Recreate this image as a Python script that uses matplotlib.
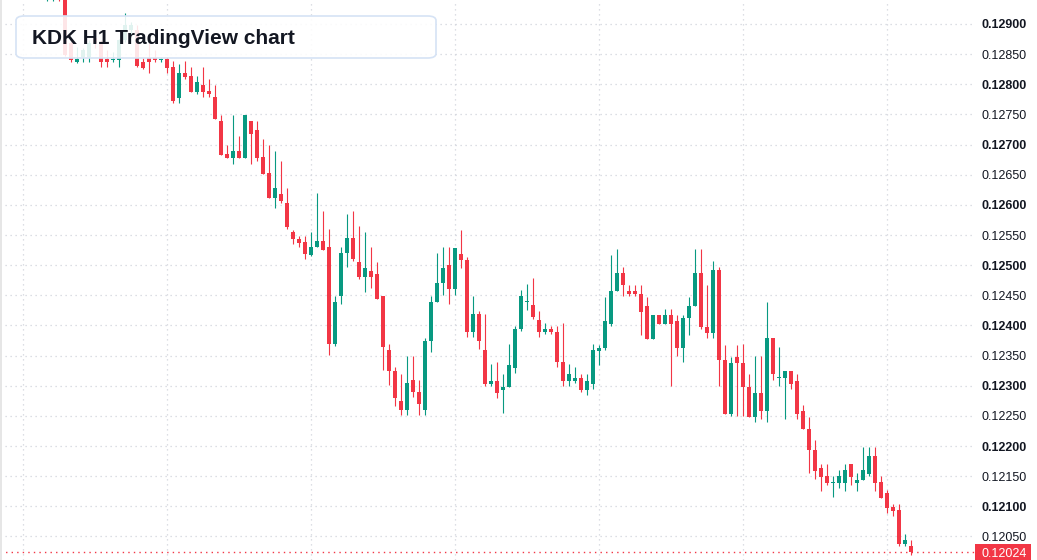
import numpy as np
import matplotlib.pyplot as plt
from matplotlib import transforms
from matplotlib.patches import FancyBboxPatch, Rectangle

# OHLC data, H1 candles, oldest first
opens = [0.12948, 0.12945, 0.12965, 0.12945, 0.128685, 0.128365, 0.128453, 0.128453, 0.128768, 0.128702,
         0.12842, 0.12841, 0.128404, 0.128735, 0.1289, 0.1289, 0.128375, 0.128437, 0.128437, 0.12841,
         0.12842, 0.128288, 0.127779, 0.128188, 0.128139, 0.127878, 0.127989, 0.12789, 0.127791, 0.127393,
         0.126846, 0.126785, 0.126896, 0.126785, 0.127393, 0.127244, 0.126797, 0.126532, 0.126122, 0.126184,
         0.126035, 0.125543, 0.125438, 0.125388, 0.125173, 0.125294, 0.125405, 0.125306, 0.123687, 0.124482,
         0.125195, 0.125455, 0.125057, 0.124797, 0.124908, 0.124858, 0.124494, 0.123599, 0.123251, 0.122754,
         0.122594, 0.123102, 0.122903, 0.122594, 0.123737, 0.124383, 0.124698, 0.125007, 0.124598, 0.12519,
         0.12509, 0.123886, 0.124196, 0.123599, 0.123024, 0.123086, 0.122925, 0.122974, 0.123289, 0.123935,
         0.124386, 0.124345, 0.124096, 0.123886, 0.123947, 0.123897, 0.1234, 0.123074, 0.123074, 0.123135,
         0.122925, 0.123024, 0.123571, 0.123621, 0.124018, 0.124565, 0.124875, 0.124577, 0.124577, 0.124527,
         0.124328, 0.12377, 0.124179, 0.124018, 0.124179, 0.124079, 0.123621, 0.124118, 0.124317, 0.124875,
         0.12398, 0.123869, 0.124925, 0.123433, 0.122527, 0.123483, 0.123384, 0.122986, 0.122478, 0.122887,
         0.122577, 0.123798, 0.123127, 0.123124, 0.123251, 0.123086, 0.122589, 0.12229, 0.121942, 0.121644,
         0.121495, 0.121384, 0.121384, 0.121384, 0.121694, 0.121384, 0.121434, 0.121533, 0.121843, 0.121396,
         0.121213, 0.120982, 0.120932, 0.120374, 0.120335]
highs = [0.12981, 0.12975, 0.1297, 0.12947, 0.128718, 0.128619, 0.128602, 0.128735, 0.128818, 0.128735,
         0.12857, 0.128536, 0.12875, 0.129182, 0.12903, 0.12898, 0.128437, 0.128685, 0.12857, 0.128437,
         0.128453, 0.128392, 0.128337, 0.128382, 0.128288, 0.128139, 0.128288, 0.128089, 0.127989, 0.127492,
         0.126995, 0.127492, 0.127144, 0.127492, 0.127393, 0.127393, 0.127095, 0.126995, 0.126896, 0.126735,
         0.126283, 0.125587, 0.125488, 0.125488, 0.125554, 0.1262, 0.125902, 0.125604, 0.124494, 0.125306,
         0.125852, 0.125902, 0.125653, 0.125554, 0.125306, 0.125057, 0.124494, 0.123699, 0.123306, 0.123202,
         0.1235, 0.1235, 0.123102, 0.123798, 0.124494, 0.125206, 0.125306, 0.125306, 0.125289, 0.125587,
         0.12514, 0.124494, 0.124245, 0.124196, 0.123355, 0.1234, 0.123202, 0.123699, 0.123997, 0.124593,
         0.124693, 0.124792, 0.124245, 0.124046, 0.123997, 0.123997, 0.124046, 0.123355, 0.123305, 0.123202,
         0.123202, 0.123699, 0.123682, 0.124477, 0.125173, 0.125272, 0.124974, 0.124676, 0.124676, 0.124676,
         0.124477, 0.124179, 0.124179, 0.124278, 0.124278, 0.124179, 0.124179, 0.124477, 0.125272, 0.125272,
         0.124676, 0.125074, 0.124974, 0.123682, 0.123483, 0.123682, 0.123699, 0.123202, 0.1235, 0.1235,
         0.124394, 0.123798, 0.123649, 0.123251, 0.123251, 0.123202, 0.122688, 0.122489, 0.122092, 0.121694,
         0.121694, 0.121495, 0.121595, 0.121694, 0.121694, 0.121545, 0.121992, 0.121992, 0.121992, 0.121495,
         0.121279, 0.121031, 0.121031, 0.120534, 0.120435]
lows = [0.12938, 0.12938, 0.12938, 0.12847, 0.128375, 0.12836, 0.128375, 0.128375, 0.128602, 0.128288,
        0.128288, 0.128375, 0.128293, 0.128702, 0.12882, 0.128288, 0.128254, 0.128183, 0.12837, 0.12837,
        0.128193, 0.127696, 0.127696, 0.128094, 0.127868, 0.12784, 0.127796, 0.127796, 0.127421, 0.126825,
        0.126785, 0.126686, 0.126785, 0.126785, 0.126686, 0.126735, 0.12652, 0.126122, 0.12594, 0.126039,
        0.125592, 0.125344, 0.125306, 0.125095, 0.125145, 0.125294, 0.125244, 0.123505, 0.123654, 0.12435,
        0.124963, 0.125062, 0.124764, 0.124548, 0.124615, 0.124432, 0.123256, 0.123008, 0.12266, 0.122511,
        0.122511, 0.122809, 0.122511, 0.122511, 0.123555, 0.124383, 0.124499, 0.12435, 0.124499, 0.124946,
        0.123803, 0.123803, 0.123604, 0.122991, 0.122991, 0.122792, 0.122544, 0.122974, 0.123207, 0.123902,
        0.12425, 0.124101, 0.123803, 0.123853, 0.123853, 0.123306, 0.122991, 0.122991, 0.123041, 0.122892,
        0.122842, 0.122942, 0.123339, 0.123588, 0.123985, 0.124565, 0.124482, 0.124482, 0.124482, 0.123836,
        0.12377, 0.12377, 0.124018, 0.124018, 0.122991, 0.123488, 0.123389, 0.123836, 0.124317, 0.123935,
        0.123786, 0.123786, 0.122991, 0.122527, 0.122494, 0.122494, 0.122494, 0.122478, 0.122395, 0.122444,
        0.122395, 0.123091, 0.122991, 0.122444, 0.122942, 0.122444, 0.122279, 0.121549, 0.121451, 0.121252,
        0.121351, 0.121152, 0.121301, 0.121252, 0.121351, 0.121252, 0.121434, 0.1215, 0.121252, 0.121136,
        0.120887, 0.120838, 0.12034, 0.12034, 0.120192]
closes = [0.12973, 0.12965, 0.12945, 0.12849, 0.128404, 0.128415, 0.128569, 0.128685, 0.128685, 0.12837,
          0.128365, 0.128415, 0.128735, 0.128983, 0.12898, 0.12831, 0.128266, 0.12837, 0.128404, 0.128415,
          0.128276, 0.127724, 0.128188, 0.128122, 0.127878, 0.128039, 0.127878, 0.127835, 0.127431, 0.126835,
          0.126785, 0.126896, 0.126785, 0.127492, 0.127183, 0.126785, 0.12652, 0.126122, 0.126283, 0.126068,
          0.125625, 0.125427, 0.125372, 0.125181, 0.125306, 0.125405, 0.125244, 0.123687, 0.124394, 0.125206,
          0.125455, 0.125095, 0.124797, 0.124958, 0.124797, 0.124432, 0.123637, 0.12324, 0.122792, 0.122594,
          0.123052, 0.122892, 0.122693, 0.123748, 0.124394, 0.124709, 0.124958, 0.124598, 0.125289, 0.125079,
          0.123886, 0.124196, 0.123737, 0.123024, 0.123086, 0.122875, 0.122986, 0.123351, 0.123947, 0.124494,
          0.124394, 0.124134, 0.123886, 0.123947, 0.123886, 0.123389, 0.123074, 0.123202, 0.123135, 0.122925,
          0.123086, 0.123599, 0.123632, 0.124079, 0.124577, 0.124875, 0.124664, 0.124515, 0.124515, 0.124217,
          0.12377, 0.124179, 0.124018, 0.124179, 0.124018, 0.123621, 0.124129, 0.124328, 0.124875, 0.123969,
          0.123869, 0.124925, 0.123422, 0.122527, 0.123384, 0.123372, 0.122974, 0.122478, 0.122887, 0.122577,
          0.123798, 0.12319, 0.123135, 0.123251, 0.123024, 0.122527, 0.122279, 0.121931, 0.121583, 0.121484,
          0.121384, 0.121396, 0.121495, 0.121595, 0.121484, 0.121445, 0.121595, 0.121843, 0.121384, 0.121136,
          0.12097, 0.12092, 0.120374, 0.120435, 0.12024]

price_ticks = [0.1205, 0.121, 0.1215, 0.122, 0.1225, 0.123, 0.1235, 0.124, 0.1245, 0.125,
               0.1255, 0.126, 0.1265, 0.127, 0.1275, 0.128, 0.1285, 0.129]
day_starts = [-4, 20, 44, 68, 92, 116, 140]   # candle index of each session line
title = "KDK H1 TradingView chart"

UP = '#089981'
DOWN = '#f23645'
TXT = '#131722'
GRID = '#d1d4dc'

W, H = 1037, 560
fig = plt.figure(figsize=(W / 100, H / 100), dpi=100)
fig.patch.set_facecolor('white')
ax = fig.add_axes([0, 0, 975 / W, 1])

ymin, ymax = 0.12011, 0.129398
ax.set_xlim(-7.83, 154.67)
ax.set_ylim(ymin, ymax)
dp = (ymax - ymin) / H  # price per pixel

x = np.arange(len(opens))
o = np.array(opens)
c = np.array(closes)
hi = np.array(highs)
lo = np.array(lows)
up = c >= o
cols = np.where(up, UP, DOWN)

ax.vlines(x, lo, hi, colors=cols, linewidth=0.8, zorder=3)
bottom = np.minimum(o, c)
height = np.maximum(np.abs(c - o), dp)
ax.bar(x, height, bottom=bottom, width=0.78, color=cols, linewidth=0, zorder=4)

# grid
ax.set_xticks(day_starts)
ax.set_yticks(price_ticks)
ax.grid(True, color=GRID, linestyle=(0, (1, 3)), linewidth=0.9)
ax.tick_params(length=0, labelbottom=False, labelleft=False)
for s in ax.spines.values():
    s.set_visible(False)

# price scale labels
trans = transforms.blended_transform_factory(fig.transFigure, ax.transData)
for p in price_ticks:
    bold = abs(round(p * 1000) - p * 1000) < 1e-6
    ax.text(1027 / W, p, f"{p:.5f}", transform=trans, ha='right', va='center_baseline',
            fontsize=9, family='Liberation Sans', color=TXT,
            fontweight='bold' if bold else 'normal', clip_on=False)

# last price line + label
last = closes[-1]
ax.axhline(last, color=DOWN, linestyle=(0, (1, 3)), linewidth=1, zorder=5)
ax.add_patch(Rectangle((975 / W, last - 8 * dp), 56 / W, 16 * dp, transform=trans,
                       facecolor=DOWN, edgecolor='none', clip_on=False, zorder=6))
ax.text(1027 / W, last, f"{last:.5f}", transform=trans, ha='right', va='center_baseline',
        fontsize=9, family='Liberation Sans', color='white', clip_on=False, zorder=7)

# left border strip
fig.patches.append(Rectangle((0, 0), 2 / W, 1, transform=fig.transFigure,
                             facecolor='#e6e6e6', edgecolor='none', zorder=2))

# title box
box = FancyBboxPatch((16 / W, 1 - 58 / H), 420 / W, 42 / H,
                     boxstyle="round,pad=0,rounding_size=0.008",
                     transform=fig.transFigure, facecolor=(1, 1, 1, 0.88),
                     edgecolor='#d6e3f5', linewidth=1.2, zorder=2)
fig.patches.append(box)
fig.text(32 / W, 1 - 37 / H, title, ha='left', va='center_baseline', fontsize=15,
         fontweight='bold', family='Liberation Sans', color=TXT, zorder=3)

fig.savefig('out.png', dpi=100)
